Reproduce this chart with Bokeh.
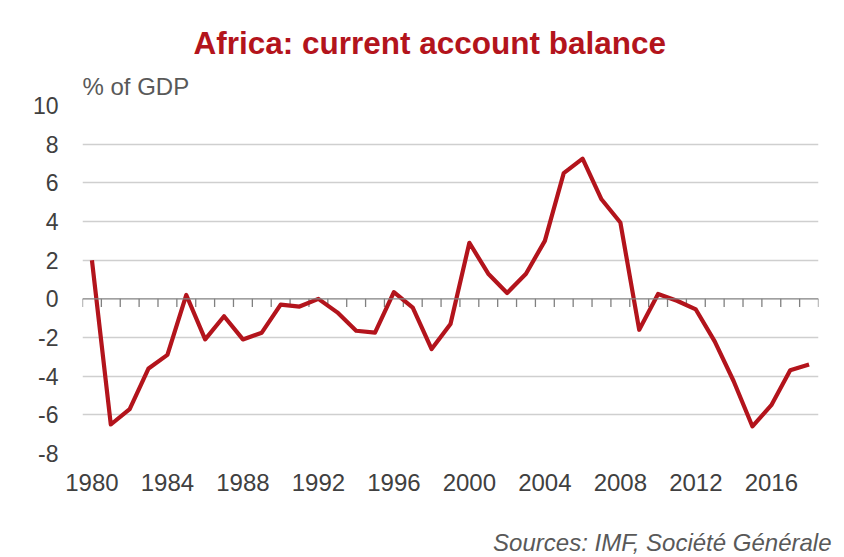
from bokeh.plotting import figure
from bokeh.layouts import column
from bokeh.models import FixedTicker, Range1d, Title, Span
from bokeh.embed import file_html
from bokeh.resources import INLINE

# ---- data ----
years = list(range(1980, 2019))
balance = [2.0, -6.5, -5.7, -3.6, -2.9, 0.2, -2.1, -0.9, -2.1, -1.75,
           -0.3, -0.4, 0.0, -0.7, -1.65, -1.75, 0.35, -0.45, -2.6, -1.3,
           2.9, 1.3, 0.3, 1.3, 3.0, 6.5, 7.25, 5.15, 3.95, -1.6,
           0.25, -0.1, -0.55, -2.2, -4.25, -6.6, -5.5, -3.7, -3.4]
year_labels = years[::4]
y_ticks = [-8, -6, -4, -2, 0, 2, 4, 6, 8, 10]
title_text = "Africa: current account balance"
unit_text = "% of GDP"
source_text = "Sources: IMF, Société Générale"

RED = "#B3141C"
GREY_TXT = "#595959"
FONT = "Liberation Sans"

p = figure(width=844, height=526, output_backend="svg", toolbar_location=None,
           title=None,
           x_range=Range1d(years[0] - 0.5, years[-1] + 0.5),
           y_range=Range1d(y_ticks[0], y_ticks[-1]),
           min_border_left=82, min_border_right=26,
           min_border_top=105, min_border_bottom=73)
p.outline_line_color = None
p.background_fill_color = "white"
p.border_fill_color = "white"

# y axis
p.yaxis.ticker = FixedTicker(ticks=y_ticks)
p.yaxis.major_label_overrides = {t: str(t) for t in y_ticks}
p.yaxis.axis_line_color = None
p.yaxis.major_tick_line_color = None
p.yaxis.minor_tick_line_color = None
p.yaxis.major_tick_out = 0
p.yaxis.major_label_standoff = 24
p.yaxis.major_label_text_font = FONT
p.yaxis.major_label_text_font_size = "23px"
p.yaxis.major_label_text_color = "#404040"

# x axis with year labels at bottom
p.xaxis.ticker = FixedTicker(ticks=year_labels)
p.xaxis.axis_line_color = None
p.xaxis.major_tick_line_color = None
p.xaxis.minor_tick_line_color = None
p.xaxis.major_tick_out = 0
p.xaxis.major_label_standoff = 20
p.xaxis.major_label_text_font = FONT
p.xaxis.major_label_text_font_size = "24px"
p.xaxis.major_label_text_color = "#404040"

# grid
p.xgrid.grid_line_color = None
p.ygrid.ticker = FixedTicker(ticks=[t for t in y_ticks if t != 0])
p.ygrid.grid_line_color = "#CFCFCF"
p.ygrid.grid_line_width = 1.5

# zero line with category-boundary ticks
bounds = [y - 0.5 for y in years] + [years[-1] + 0.5]
p.add_layout(Span(location=0, dimension="width", line_color="#808080",
                  line_width=1.3))
p.segment(x0=bounds, x1=bounds, y0=[0] * len(bounds), y1=[-0.42] * len(bounds),
          line_color="#808080", line_width=1.3)

# series
p.line(years, balance, line_color=RED, line_width=4.2, line_join="round")

# texts (nearest to frame first)
p.add_layout(Title(text=unit_text, align="left", text_font=FONT,
                   text_font_size="24px", text_font_style="normal",
                   text_color=GREY_TXT, standoff=12), "above")
p.add_layout(Title(text=title_text, align="left", offset=111,
                   text_font=FONT, text_font_size="31.5px",
                   text_font_style="bold", text_color=RED,
                   standoff=8), "above")

# source line below the chart (a thin strip whose title carries the text)
s = figure(width=844, height=31, output_backend="svg", toolbar_location=None,
           title=None, x_range=Range1d(0, 1), y_range=Range1d(0, 1),
           x_axis_type=None, y_axis_type=None,
           min_border_left=82, min_border_right=26,
           min_border_top=0, min_border_bottom=0)
s.outline_line_color = None
s.grid.grid_line_color = None
s.add_layout(Title(text=source_text, align="right", offset=-13,
                   text_font=FONT, text_font_size="24px",
                   text_font_style="italic", text_color=GREY_TXT,
                   standoff=0), "above")

layout = column(p, s, spacing=0)
open("out.html", "w").write(file_html(layout, INLINE))
